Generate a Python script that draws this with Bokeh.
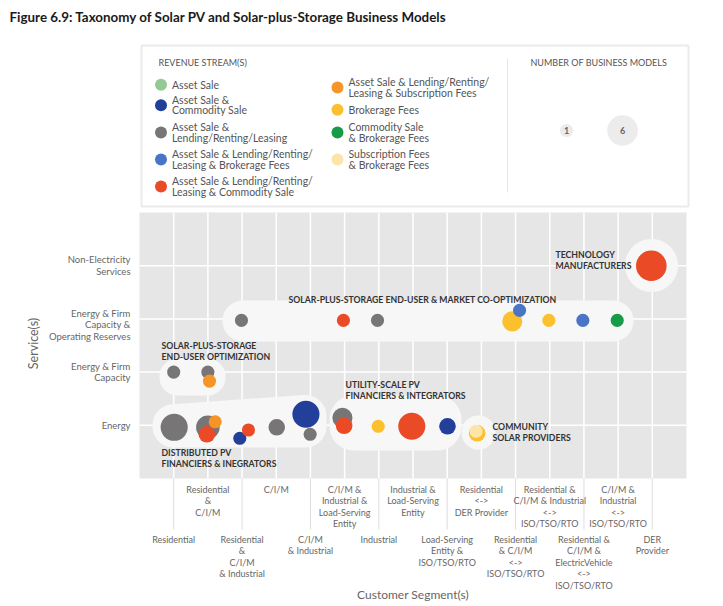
import numpy as np
from bokeh.plotting import figure
from bokeh.models import Range1d, ColumnDataSource
from bokeh.core.properties import value
from bokeh.embed import file_html
from bokeh.resources import INLINE

FONT = "Lato"

# ---------------- data ----------------
title = "Figure 6.9: Taxonomy of Solar PV and Solar-plus-Storage Business Models"

services = ["Energy", "Energy & Firm\nCapacity", "Energy & Firm\nCapacity &\nOperating Reserves",
            "Non-Electricity\nServices"]

segments = [
    "Residential",
    "Residential\n&\nC/I/M",
    "Residential\n&\nC/I/M\n& Industrial",
    "C/I/M",
    "C/I/M\n& Industrial",
    "C/I/M &\nIndustrial &\nLoad-Serving\nEntity",
    "Industrial",
    "Industrial &\nLoad-Serving\nEntity",
    "Load-Serving\nEntity &\nISO/TSO/RTO",
    "Residential\n<->\nDER Provider",
    "Residential\n& C/I/M\n<->\nISO/TSO/RTO",
    "Residential &\nC/I/M & Industrial\n<->\nISO/TSO/RTO",
    "Residential &\nC/I/M &\nElectricVehicle\n<->\nISO/TSO/RTO",
    "C/I/M &\nIndustrial\n<->\nISO/TSO/RTO",
    "DER\nProvider",
]

streams = [
    "Asset Sale",
    "Asset Sale &\nCommodity Sale",
    "Asset Sale &\nLending/Renting/Leasing",
    "Asset Sale & Lending/Renting/\nLeasing & Brokerage Fees",
    "Asset Sale & Lending/Renting/\nLeasing & Commodity Sale",
    "Asset Sale & Lending/Renting/\nLeasing & Subscription Fees",
    "Brokerage Fees",
    "Commodity Sale\n& Brokerage Fees",
    "Subscription Fees\n& Brokerage Fees",
]
stream_colors = ["#93c993", "#22409a", "#777575", "#4a74c5", "#ea4a26",
                 "#f59427", "#fbc02d", "#169b48", "#fde4a8"]

# bubbles: segment index, service index, revenue stream index, number of business models
bub_segment = [0, 1, 1, 1, 2, 2, 3, 4, 4, 5, 5, 6, 7, 8, 9, 9,
               0, 1, 1,
               2, 5, 6, 10, 10, 11, 12, 13,
               14]
bub_service = [0] * 16 + [1] * 3 + [2] * 8 + [3]
bub_stream = [2, 2, 4, 5, 1, 4, 2, 1, 2, 2, 4, 6, 4, 1, 6, 8,
              2, 2, 5,
              2, 4, 2, 6, 3, 6, 3, 7,
              4]
bub_count = [5, 4, 2, 1, 1, 1, 2, 5, 1, 3, 2, 1, 5, 2, 2, 1,
             1, 1, 1,
             1, 1, 1, 3, 1, 1, 1, 1,
             6]
# small nudges (pixels) used to separate overlapping bubbles
nudge_x = [0.5, 0, -1, 7.3, -2.3, 6.4, 0.5, -4.5, -0.3, -2.2, -0.5, -0.6, -1.2, 0.3, -4.2, -5.2,
           0, 0, 1.6,
           -0.6, -1.2, -1.3, -3.3, 4, -0.9, -1.1, -0.9,
           -1]
nudge_y = [2, 2, 9, -3.5, 13, 4.7, 2, -11, 9, -7.5, 0.5, 1, 1, 1, 8, 6,
           0, 0, 9,
           1.5, 1.5, 1.5, 2.5, -8.5, 1.5, 1.5, 1.5,
           0]

clusters = ["TECHNOLOGY\nMANUFACTURERS",
            "SOLAR-PLUS-STORAGE END-USER & MARKET CO-OPTIMIZATION",
            "SOLAR-PLUS-STORAGE\nEND-USER OPTIMIZATION",
            "UTILITY-SCALE PV\nFINANCIERS & INTEGRATORS",
            "COMMUNITY\nSOLAR PROVIDERS",
            "DISTRIBUTED PV\nFINANCIERS & INEGRATORS"]

size_legend_counts = [1, 6]

# ---------------- geometry ----------------
W, H = 720, 603
FX0, FX1, FY0, FY1 = 139.0, 686.0, 212.0, 478.0   # plot panel in page px
XR = (-1, 15)
YR = (-1, 4)
KX = (XR[1] - XR[0]) / (FX1 - FX0)
KY = (YR[1] - YR[0]) / (FY1 - FY0)


def px2x(X):
    return XR[0] + (X - FX0) * KX


def px2y(Y):
    return YR[1] - (Y - FY0) * KY


def bubble_size(n):
    return 9.6 + 3.5 * n


def rounded_polygon(pts, r, n=10):
    out = []
    N = len(pts)
    for i in range(N):
        p_ = np.array(pts[i], float)
        a = np.array(pts[i - 1], float)
        b = np.array(pts[(i + 1) % N], float)
        la, lb = np.linalg.norm(a - p_), np.linalg.norm(b - p_)
        da, db = (a - p_) / la, (b - p_) / lb
        theta = np.arccos(np.clip(np.dot(da, db), -1, 1))
        rr = min(r, min(la, lb) / 2 * np.tan(theta / 2))
        t = rr / np.tan(theta / 2)
        s, e = p_ + da * t, p_ + db * t
        bis = (da + db) / np.linalg.norm(da + db)
        c = p_ + bis * rr / np.sin(theta / 2)
        a0 = np.arctan2((s - c)[1], (s - c)[0])
        a1 = np.arctan2((e - c)[1], (e - c)[0])
        d = (a1 - a0 + np.pi) % (2 * np.pi) - np.pi
        for k in np.linspace(0, 1, n):
            ang = a0 + d * k
            out.append((c[0] + rr * np.cos(ang), c[1] + rr * np.sin(ang)))
    return out


def circle_poly(cx, cy, r, n=60):
    return [(cx + r * np.cos(t), cy + r * np.sin(t)) for t in np.linspace(0, 2 * np.pi, n, endpoint=False)]


p = figure(width=W, height=H,
           x_range=Range1d(px2x(0), px2x(W)), y_range=Range1d(px2y(H), px2y(0)),
           x_axis_type=None, y_axis_type=None, min_border=0,
           background_fill_color="white", border_fill_color="white",
           output_backend="svg", toolbar_location=None)
p.outline_line_color = None

txt = dict(text_font=value(FONT))

# ---------------- title + legend ----------------
p.text(x=[px2x(9)], y=[px2y(16)], text=[title], text_font_style="bold",
       text_font_size="13.4px", text_color="#1a1a1a", text_baseline="middle", **txt)

p.quad(left=[px2x(141)], right=[px2x(688)], top=[px2y(45)], bottom=[px2y(206)],
       fill_color="white", line_color="#ebebeb", line_width=2)
p.segment(x0=[px2x(507)], y0=[px2y(58)], x1=[px2x(507)], y1=[px2y(192)],
          line_color="#e6e6e6", line_width=1)

p.text(x=[px2x(158), px2x(530)], y=[px2y(62), px2y(62)],
       text=["REVENUE STREAM(S)", "NUMBER OF BUSINESS MODELS"],
       text_font_size="9px", text_color="#555555", text_baseline="middle", **txt)

leg_px_x = [160.5] * 5 + [337] * 4
leg_px_y = [84.3, 104.7, 132, 159, 186, 87, 109.3, 132, 159]
leg_src = ColumnDataSource(dict(x=[px2x(v) for v in leg_px_x], y=[px2y(v) for v in leg_px_y],
                                tx=[px2x(v + 11) for v in leg_px_x],
                                label=streams, color=stream_colors))
p.scatter("x", "y", size=12, fill_color="color", line_color=None, source=leg_src)
p.text("tx", "y", text="label", text_font_size="10.5px", text_color="#555555",
       text_baseline="middle", text_line_height=0.86, source=leg_src, **txt)

sl_src = ColumnDataSource(dict(x=[px2x(566), px2x(622)], y=[px2y(130), px2y(130)],
                               s=[bubble_size(n) for n in size_legend_counts],
                               t=[str(n) for n in size_legend_counts]))
p.scatter("x", "y", size="s", fill_color="#ececec", line_color=None, source=sl_src)
p.text("x", "y", text="t", text_font_style="bold", text_font_size="9px",
       text_color="#666666", text_align="center", text_baseline="middle", source=sl_src, **txt)

# ---------------- plot panel ----------------
cats = list(range(len(segments)))
levels = list(range(len(services)))
p.quad(left=[XR[0]], right=[XR[1]], bottom=[YR[0]], top=[YR[1]], fill_color="#e6e6e6", line_color=None)
p.segment(x0=cats, y0=[YR[0]] * len(cats), x1=cats, y1=[YR[1]] * len(cats),
          line_color="white", line_width=1.5)
p.segment(x0=[XR[0]] * len(levels), y0=levels, x1=[XR[1]] * len(levels), y1=levels,
          line_color="white", line_width=1.5)
# long ticks for the lower row of category labels
even = cats[::2]
p.segment(x0=even, y0=[YR[0]] * len(even), x1=even, y1=[px2y(529)] * len(even),
          line_color="#dedede", line_width=1)

# cluster backgrounds
blob_px = [
    circle_poly(651, 265, 26.5),
    rounded_polygon([(222, 300), (633, 300), (633, 341), (222, 341)], 20.5),
    rounded_polygon([(159, 358), (225, 358), (225, 395), (159, 395)], 18),
    rounded_polygon([(329, 395), (461, 395), (461, 450), (329, 450)], 24),
    circle_poly(478, 432, 17),
    rounded_polygon([(152, 405), (326, 393), (326, 447), (152, 447)], 21),
]
p.patches(xs=[[px2x(a) for a, b in poly] for poly in blob_px],
          ys=[[px2y(b) for a, b in poly] for poly in blob_px],
          fill_color="#f7f7f7", line_color=None)

bx = [s + dx * KX for s, dx in zip(bub_segment, nudge_x)]
by = [v - dy * KY for v, dy in zip(bub_service, nudge_y)]
bsrc = ColumnDataSource(dict(x=bx, y=by, size=[bubble_size(n) for n in bub_count],
                             color=[stream_colors[i] for i in bub_stream]))
p.scatter("x", "y", size="size", fill_color="color", line_color=None, source=bsrc)

cl_px_x = [555, 288, 161, 345, 492, 161]
cl_px_y = [259.5, 299.3, 350.5, 389.5, 431.7, 457.5]
p.text(x=[px2x(v) for v in cl_px_x], y=[px2y(v) for v in cl_px_y], text=clusters,
       text_font_style="bold", text_font_size="8.7px", text_color="#333333",
       text_baseline="middle", text_line_height=1.05, **txt)

# ---------------- axis texts ----------------
ylab_nudge = [0, 0, 6, 0]   # px, downward
p.text(x=[px2x(130)] * len(services), y=[lv - d * KY for lv, d in zip(levels, ylab_nudge)],
       text=services, text_align="right", text_baseline="middle", text_font_size="9.5px",
       text_color="#666666", text_line_height=1.05, **txt)

up = [i for i in cats if i % 2 == 1]
lo = [i for i in cats if i % 2 == 0]
p.text(x=up, y=[px2y(483)] * len(up), text=[segments[i] for i in up], text_align="center",
       text_baseline="top", text_font_size="9px", text_color="#666666", text_line_height=1.06, **txt)
p.text(x=lo, y=[px2y(533)] * len(lo), text=[segments[i] for i in lo], text_align="center",
       text_baseline="top", text_font_size="9px", text_color="#666666", text_line_height=1.06, **txt)

p.text(x=[(XR[0] + XR[1]) / 2], y=[px2y(594)], text=["Customer Segment(s)"], text_align="center",
       text_baseline="middle", text_font_size="12px", text_color="#666666", **txt)
p.text(x=[px2x(33)], y=[px2y(343)], text=["Service(s)"], angle=np.pi / 2, text_align="center",
       text_baseline="middle", text_font_size="12.5px", text_color="#666666", **txt)

open("out.html", "w").write(file_html(p, INLINE))
